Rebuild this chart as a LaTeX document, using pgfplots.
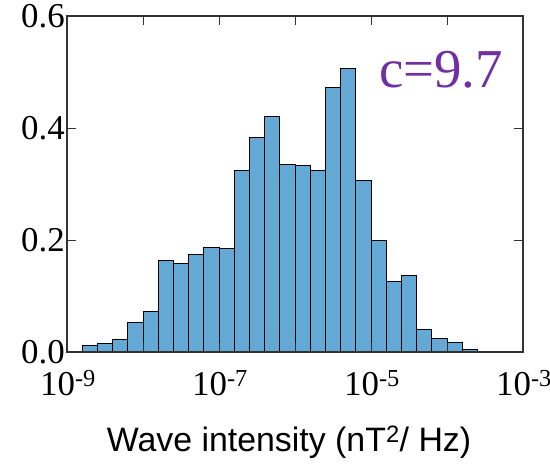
\documentclass[border=0pt]{standalone}
\usepackage{pgfplots}
\pgfplotsset{compat=1.18}
\usepackage{fontspec}
\setmainfont{Liberation Serif}
\newfontfamily\arialfont{Liberation Sans}
\definecolor{barblue}{RGB}{100,168,214}
\definecolor{cpurple}{RGB}{112,48,160}
\begin{document}
\begin{tikzpicture}
\begin{axis}[
  at={(0,0)}, anchor=south west,
  scale only axis, width=456bp, height=336bp,
  xmin=-9, xmax=-3, ymin=0, ymax=0.6,
  xtick={-9,-8,-7,-6,-5,-4,-3},
  xticklabels={10\textsuperscript{-9},,10\textsuperscript{-7},,10\textsuperscript{-5},,10\textsuperscript{-3}},
  ytick={0,0.2,0.4,0.6},
  yticklabels={0.0,0.2,0.4,0.6},
  tick align=inside, major tick length=9bp,
  tick style={line width=1bp, color=black!80},
  axis line style={line width=1.2bp, color=black!80},
  ticklabel style={font=\fontsize{35}{38}\selectfont, inner sep=2bp},
  xticklabel style={yshift=-16bp, xshift=1bp},
  /pgf/number format/assume math mode=true,
  xlabel={{\arialfont\fontsize{34}{38}\selectfont Wave intensity (nT\textsuperscript{2}/ Hz)}},
  xlabel style={yshift=-25bp, xshift=-6bp},
  axis on top,
]
\addplot[ybar interval, fill=barblue, draw=black, line width=1bp] table[x=x, y=y] {
x y
-8.8 0.012
-8.6 0.0155
-8.4 0.023
-8.2 0.052
-8.0 0.073
-7.8 0.164
-7.6 0.158
-7.4 0.175
-7.2 0.187
-7.0 0.185
-6.8 0.324
-6.6 0.383
-6.4 0.420
-6.2 0.334
-6.0 0.333
-5.8 0.324
-5.6 0.473
-5.4 0.506
-5.2 0.307
-5.0 0.200
-4.8 0.126
-4.6 0.136
-4.4 0.040
-4.2 0.025
-4.0 0.0167
-3.8 0.0036
-3.6 0.0036
};
\node[anchor=base east, text=cpurple, font=\fontsize{55}{60}\selectfont, inner sep=0pt] at (rel axis cs:0.956,0.786) {c=9.7};
\end{axis}
\pgfresetboundingbox
\path (-67bp,-114bp) rectangle (483bp,352bp);
\end{tikzpicture}
\end{document}
